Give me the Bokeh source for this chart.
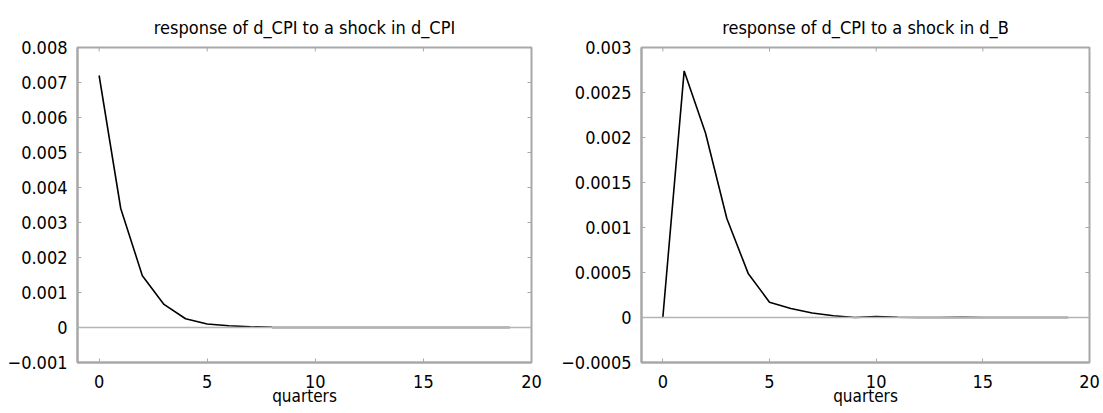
import math
from bokeh.plotting import figure
from bokeh.layouts import row
from bokeh.models import Range1d, FixedTicker, Span, CustomJSTickFormatter
from bokeh.embed import file_html
from bokeh.resources import INLINE

quarters = list(range(20))
resp_cpi_cpi = [0.0072, 0.0034, 0.00148, 0.00066, 0.00025, 0.0001, 0.00005, 0.00002,
                0.000005, 0.000002, 0.000001, 0.0, 0.0, 0.0, 0.0, 0.0, 0.0, 0.0, 0.0, 0.0]
resp_cpi_b = [0.0, 0.00274, 0.00205, 0.0011, 0.00049, 0.00017, 0.0001, 0.00005,
              0.00002, 0.0, 0.00001, 0.000003, 0.0, 0.0, 0.000003, 0.0, 0.0, 0.0, 0.0, 0.0]
titles = ["response of d_CPI to a shock in d_CPI", "response of d_CPI to a shock in d_B"]
x_ticks = [0, 5, 10, 15, 20]
y_ticks_left = [-0.001, 0, 0.001, 0.002, 0.003, 0.004, 0.005, 0.006, 0.007, 0.008]
y_ticks_right = [-0.0005, 0, 0.0005, 0.001, 0.0015, 0.002, 0.0025, 0.003]

FONT = "DejaVu Sans Condensed, Roboto, sans-serif"
GREY = "#a8a8a8"

fmt_code = "return tick.toString().replace('-', '\u2212');"


def make_panel(title, ys, yticks, yr, width, bl, br):
    x0, x1 = -1, 20
    p = figure(width=width, height=410, output_backend="svg", toolbar_location=None,
               x_range=Range1d(x0, x1), y_range=Range1d(*yr),
               min_border_left=bl, min_border_right=br, min_border_top=47,
               min_border_bottom=48, title=title)
    p.title.text_font = FONT
    p.title.text_font_size = "18px"
    p.title.text_font_style = "normal"
    p.title.align = "center"
    p.title.text_color = "black"
    p.title.standoff = 19
    p.grid.visible = False
    p.outline_line_color = GREY
    p.outline_line_width = 2
    p.background_fill_color = "white"
    p.border_fill_color = "white"

    p.add_layout(Span(location=0, dimension="width", line_color="#b4b4b4", line_width=1.5))
    p.line(quarters, ys, line_color="black", line_width=1.6)

    # mirror ticks on the top and right edges (half of each dash is clipped by the frame)
    p.scatter([x1] * len(yticks), yticks, marker="dash", size=8,
              line_color=GREY, line_width=1)
    p.scatter(x_ticks, [yr[1]] * len(x_ticks), marker="dash", size=8, angle=math.pi / 2,
              line_color=GREY, line_width=1)

    for ax in p.xaxis:
        ax.ticker = FixedTicker(ticks=x_ticks)
        ax.axis_label = "quarters"
        ax.axis_label_text_font = FONT
        ax.axis_label_text_font_size = "17px"
        ax.axis_label_text_font_style = "normal"
        ax.axis_label_text_color = "black"
        ax.axis_label_standoff = -5
        ax.major_label_standoff = 12
    for ax in p.yaxis:
        ax.ticker = FixedTicker(ticks=yticks)
        ax.formatter = CustomJSTickFormatter(code=fmt_code)
        ax.major_label_standoff = 10
    for ax in p.axis:
        ax.major_tick_in = 4
        ax.major_tick_out = 0
        ax.minor_tick_line_color = None
        ax.major_tick_line_color = GREY
        ax.major_tick_line_width = 1
        ax.axis_line_color = GREY
        ax.axis_line_width = 2
        ax.major_label_text_font = FONT
        ax.major_label_text_font_size = "18px"
        ax.major_label_text_color = "black"
    return p


p1 = make_panel(titles[0], resp_cpi_cpi, y_ticks_left, (-0.001, 0.008), 556, 77, 25)
p2 = make_panel(titles[1], resp_cpi_b, y_ticks_right, (-0.0005, 0.003), 545, 85, 12)

layout = row(p1, p2)
open("out.html", "w").write(file_html(layout, INLINE))
